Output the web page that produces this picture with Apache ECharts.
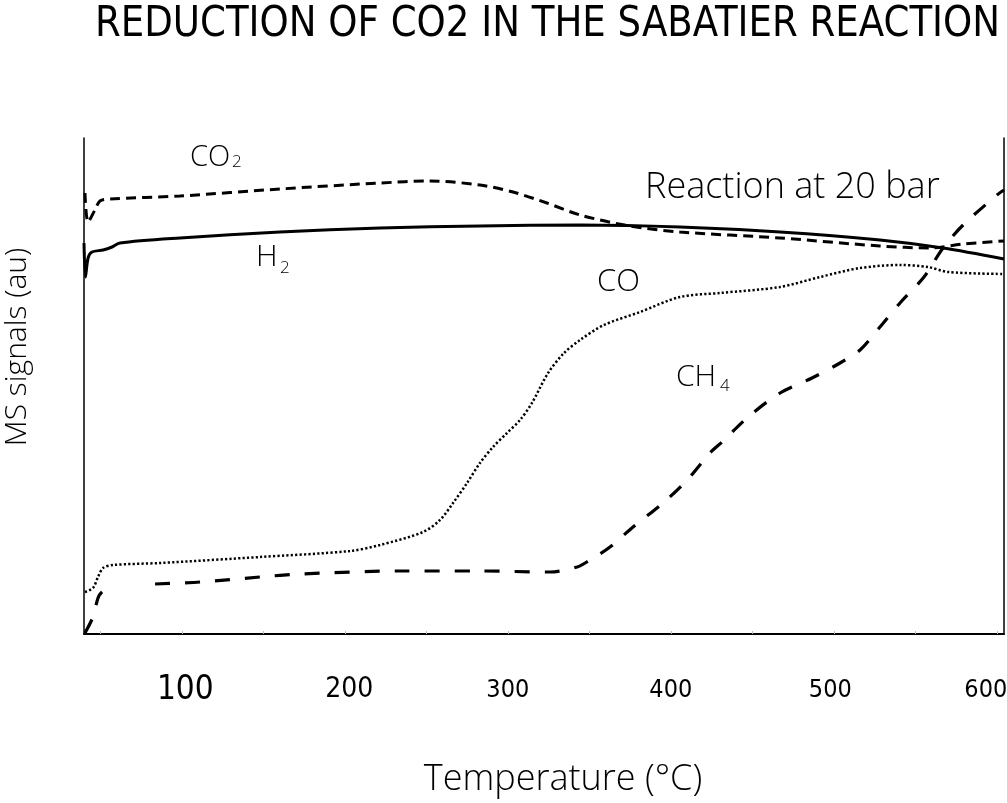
<!DOCTYPE html>
<html>
<head>
<meta charset="utf-8">
<script src="https://cdn.jsdelivr.net/npm/echarts@6/dist/echarts.min.js"></script>
<style>
html,body{margin:0;padding:0;background:#fff;}
#chart{width:1007px;height:803px;}
</style>
</head>
<body>
<div id="chart"></div>
<script>
// ---- data (temperature °C, MS signal a.u.) ----
const co2T = [40.6, 42.5, 46.7, 49.8, 56.0, 98.9, 160.2, 221.6, 252.3, 282.9, 303.2, 324.0, 344.3, 375.0, 405.6, 467.0, 528.3, 559.0, 579.3, 604.4];
const co2V = [441, 412, 424, 433, 435, 438, 445, 451, 453, 449, 442, 431, 419, 408, 402, 396, 388, 386, 390, 393];

const h2T = [40.0, 40.9, 42.5, 44.9, 51.7, 57.2, 62.1, 98.9, 160.2, 221.6, 282.9, 344.3, 405.6, 467.0, 528.3, 567.0, 604.4];
const h2V = [391, 357, 376, 382, 384, 387, 391, 396, 402, 406, 408, 409, 407, 402, 394, 386, 375];

const coT = [40.6, 45.5, 48.6, 51.7, 57.8, 86.6, 148.0, 203.2, 221.6, 248.0, 258.4, 266.4, 275.0, 282.9, 290.9, 299.5, 307.5, 314.8, 324.7, 334.5, 344.3, 359.0, 381.1, 405.6, 430.2, 467.0, 491.5, 516.1, 540.6, 557.8, 570.1, 604.4];
const coV = [42, 46, 57, 66, 69, 71, 77, 83, 89, 102, 114, 131, 151, 171, 187, 201, 214, 231, 261, 281, 294, 309, 322, 337, 341, 347, 357, 366, 369, 367, 362, 360];

const ch4T = [40.6, 45.5, 48.6, 51.0, 54.7, null, 83.6, 111.2, 148.0, 172.5, 233.9, 282.9, 325.9, 342.5, 350.4, 362.7, 376.8, 395.2, 410.0, 424.0, 431.4, 447.4, 467.0, 486.6, 503.8, 516.1, 528.3, 540.6, 555.3, 567.0, 579.3, 600.1, 604.4];
const ch4V = [1, 17, 36, 42, 45, null, 50, 52, 57, 60, 63, 63, 62, 67, 74, 87, 107, 131, 154, 181, 192, 217, 241, 256, 271, 284, 307, 331, 357, 386, 409, 439, 444];

const xTickValues = [50, 100, 150, 200, 250, 300, 350, 400, 450, 500, 550, 600];
const xLabelValues = [100, 200, 300, 400, 500, 600];

const titleText = 'REDUCTION OF CO2 IN THE SABATIER REACTION';
const xName = 'Temperature (°C)';
const yName = 'MS signals (au)';

function zip(t, v) {
  return t.map((x, i) => (x === null || v[i] === null) ? ['-', '-'] : [x, v[i]]);
}

const chart = echarts.init(document.getElementById('chart'));
const narrow = "'DejaVu Sans Condensed', 'Liberation Sans Narrow', sans-serif";
const labelFont = "'Open Sans', 'Noto Sans', sans-serif";

// fit title width to the reference span (95 → 1000 px)
const titleSize = 42;
const mctx = document.createElement('canvas').getContext('2d');
mctx.font = titleSize + 'px ' + narrow;
const titleW = mctx.measureText(titleText).width || 905;
const titleScale = 905 / titleW;

const labelRich = {
  t100: {fontSize: 33, lineHeight: 40, padding: [0, 0, 0, 7], fontFamily: narrow, color: '#000'},
  t200: {fontSize: 28, lineHeight: 40, padding: [0, 0, 0, 9], fontFamily: narrow, color: '#000'},
  t300: {fontSize: 25, lineHeight: 40, fontFamily: narrow, color: '#000'},
  t400: {fontSize: 25, lineHeight: 40, fontFamily: narrow, color: '#000'},
  t500: {fontSize: 25, lineHeight: 40, padding: [0, 7, 0, 0], fontFamily: narrow, color: '#000'},
  t600: {fontSize: 25, lineHeight: 40, padding: [0, 22, 0, 0], fontFamily: narrow, color: '#000'}
};

const option = {
  backgroundColor: '#fff',
  animation: false,
  grid: {left: 84, right: 3, top: 138, bottom: 169, outerBoundsMode: 'none', containLabel: false},
  xAxis: {
    type: 'value', min: 40, max: 604.4,
    axisLine: {show: true, onZero: false, lineStyle: {color: '#000', width: 2}},
    axisTick: {show: true, inside: true, length: 3, customValues: xTickValues, lineStyle: {color: '#bbb', width: 1}},
    axisLabel: {
      show: true, customValues: xLabelValues, margin: 36,
      formatter: v => '{t' + v + '|' + v + '}',
      rich: labelRich
    },
    splitLine: {show: false}
  },
  yAxis: [
    {type: 'value', min: 0, max: 496, position: 'left',
     axisLine: {show: true, lineStyle: {color: '#000', width: 1.5}},
     axisTick: {show: false}, axisLabel: {show: false}, splitLine: {show: false}},
    {type: 'value', min: 0, max: 496, position: 'right',
     axisLine: {show: true, lineStyle: {color: '#000', width: 1.5}},
     axisTick: {show: false}, axisLabel: {show: false}, splitLine: {show: false}}
  ],
  series: [
    {name: 'CO2', type: 'line', data: zip(co2T, co2V), showSymbol: false, smooth: 0.3,
     lineStyle: {color: '#000', width: 3, type: [10, 6], cap: 'butt'}},
    {name: 'H2', type: 'line', data: zip(h2T, h2V), showSymbol: false, smooth: 0.3,
     lineStyle: {color: '#000', width: 3, type: 'solid'}},
    {name: 'CO', type: 'line', data: zip(coT, coV), showSymbol: false, smooth: 0.3,
     lineStyle: {color: '#000', width: 2.5, type: [2.2, 2.2], cap: 'butt'}},
    {name: 'CH4', type: 'line', data: zip(ch4T, ch4V), showSymbol: false, smooth: 0.3, connectNulls: false,
     lineStyle: {color: '#000', width: 3.2, type: [15, 15], cap: 'butt'}}
  ],
  graphic: [
    {type: 'text', x: 95, y: 25, scaleX: titleScale, style: {text: titleText, fontSize: titleSize, fontFamily: narrow, fill: '#000', align: 'left', verticalAlign: 'middle'}},
    {type: 'text', x: 190, y: 158, style: {text: 'CO', fontSize: 29, fontWeight: 300, fontFamily: labelFont, fill: '#000', align: 'left', verticalAlign: 'middle'}},
    {type: 'text', x: 232, y: 162, style: {text: '2', fontSize: 17, fontWeight: 300, fontFamily: labelFont, fill: '#000', align: 'left', verticalAlign: 'middle'}},
    {type: 'text', x: 256, y: 257, style: {text: 'H', fontSize: 30, fontWeight: 300, fontFamily: labelFont, fill: '#000', align: 'left', verticalAlign: 'middle'}},
    {type: 'text', x: 280, y: 268, style: {text: '2', fontSize: 17, fontWeight: 300, fontFamily: labelFont, fill: '#000', align: 'left', verticalAlign: 'middle'}},
    {type: 'text', x: 597, y: 282, style: {text: 'CO', fontSize: 31, fontWeight: 300, fontFamily: labelFont, fill: '#000', align: 'left', verticalAlign: 'middle'}},
    {type: 'text', x: 676, y: 377, style: {text: 'CH', fontSize: 30, fontWeight: 300, fontFamily: labelFont, fill: '#000', align: 'left', verticalAlign: 'middle'}},
    {type: 'text', x: 720, y: 386, style: {text: '4', fontSize: 17, fontWeight: 300, fontFamily: labelFont, fill: '#000', align: 'left', verticalAlign: 'middle'}},
    {type: 'text', x: 645, y: 188, style: {text: 'Reaction at 20 bar', fontSize: 36, fontWeight: 300, fontFamily: labelFont, fill: '#000', align: 'left', verticalAlign: 'middle'}},
    {type: 'text', x: 563, y: 780, style: {text: xName, fontSize: 36, fontWeight: 300, fontFamily: labelFont, fill: '#000', align: 'center', verticalAlign: 'middle'}},
    {type: 'text', x: 17, y: 347, rotation: Math.PI / 2, style: {text: yName, fontSize: 30, fontWeight: 300, fontFamily: labelFont, fill: '#000', align: 'center', verticalAlign: 'middle'}}
  ]
};
chart.setOption(option);
</script>
</body>
</html>
